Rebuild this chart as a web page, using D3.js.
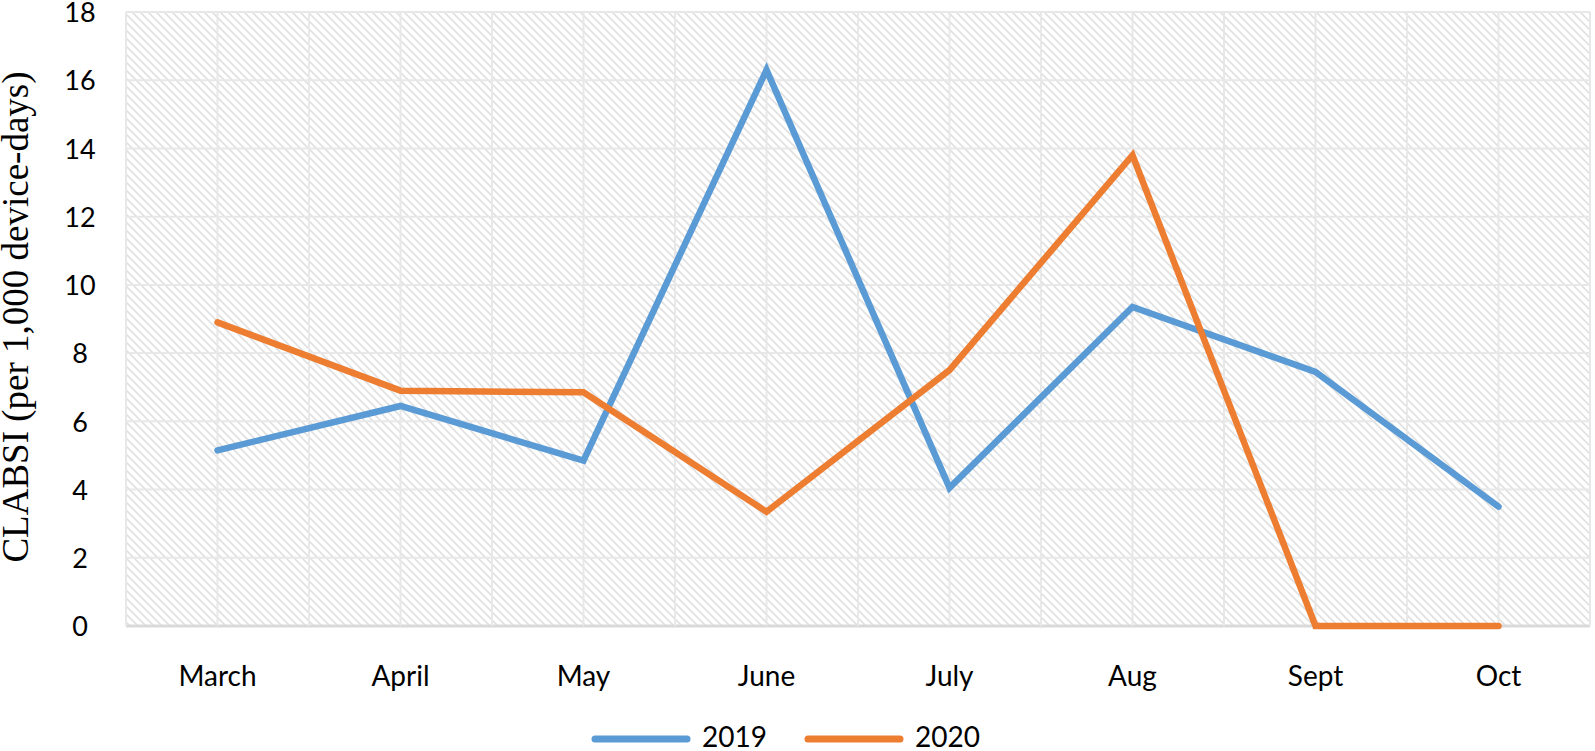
<!DOCTYPE html>
<html>
<head>
<meta charset="utf-8">
<script src="https://cdn.jsdelivr.net/npm/d3@7"></script>
<style>
  body { margin: 0; background: #fff; }
  svg { display: block; }
</style>
</head>
<body>
<div id="chart"></div>
<script>
var months = ["March", "April", "May", "June", "July", "Aug", "Sept", "Oct"];
var values2019 = [5.15, 6.45, 4.85, 16.3, 4.05, 9.35, 7.45, 3.5];
var values2020 = [8.9, 6.9, 6.85, 3.35, 7.5, 13.8, 0, 0];
var yTicks = [0, 2, 4, 6, 8, 10, 12, 14, 16, 18];
var seriesNames = ["2019", "2020"];
var seriesColors = ["#5b9bd5", "#ed7d31"];

var width = 1595, height = 751;
var margin = {left: 126, right: 5, top: 12, bottom: 125};

var svg = d3.select("#chart").append("svg")
  .attr("width", width)
  .attr("height", height);

// hatch fill for the plot area
var defs = svg.append("defs");
var pat = defs.append("pattern")
  .attr("id", "hatch")
  .attr("patternUnits", "userSpaceOnUse")
  .attr("width", 8)
  .attr("height", 8);
pat.append("path")
  .attr("d", "M-2,-2 L10,10 M-2,6 L2,10 M6,-2 L10,2")
  .attr("stroke", "#e0e0e0")
  .attr("stroke-width", 1.6);

var x = d3.scaleBand()
  .domain(months)
  .range([margin.left, width - margin.right]);

var y = d3.scaleLinear()
  .domain([0, 18])
  .range([height - margin.bottom, margin.top]);

svg.append("rect")
  .attr("x", margin.left)
  .attr("y", margin.top)
  .attr("width", width - margin.left - margin.right)
  .attr("height", y(0) - margin.top)
  .attr("fill", "url(#hatch)");

// gridlines
svg.append("g").selectAll("line")
  .data(yTicks)
  .enter()
  .append("line")
  .attr("x1", margin.left)
  .attr("x2", width - margin.right)
  .attr("y1", function(d) { return y(d); })
  .attr("y2", function(d) { return y(d); })
  .attr("stroke", function(d) { return d == 0 ? "#d9d9d9" : "#e8e8e8"; })
  .attr("stroke-width", function(d) { return d == 0 ? 3 : 2; });

// vertical grid at every band edge and centre
var vlines = [];
months.forEach(function(m) {
  vlines.push(x(m));
  vlines.push(x(m) + x.bandwidth() / 2);
});
vlines.push(width - margin.right);
svg.append("g").selectAll("line")
  .data(vlines)
  .enter()
  .append("line")
  .attr("x1", function(d) { return d; })
  .attr("x2", function(d) { return d; })
  .attr("y1", margin.top)
  .attr("y2", y(0))
  .attr("stroke", "#e8e8e8")
  .attr("stroke-width", 2);

// y axis labels
var yAxis = d3.axisLeft(y).tickValues(yTicks).tickSize(0).tickPadding(0);
var gy = svg.append("g")
  .attr("transform", "translate(80,0)")
  .call(yAxis);
gy.select(".domain").remove();
gy.selectAll("text")
  .attr("font-family", "Lato, 'Open Sans', sans-serif")
  .attr("font-size", 27)
  .attr("fill", "#000")
  .attr("text-anchor", "middle")
  .attr("dy", "0.36em");

// x axis labels
var xAxis = d3.axisBottom(x).tickSize(0).tickPadding(0);
var gx = svg.append("g")
  .attr("transform", "translate(0,676)")
  .call(xAxis);
gx.select(".domain").remove();
gx.selectAll("text")
  .attr("font-family", "Lato, 'Open Sans', sans-serif")
  .attr("font-size", 28)
  .attr("fill", "#000")
  .attr("dy", "0.36em")
  .attr("y", 0);

svg.append("text")
  .attr("transform", "translate(28," + 317 + ") rotate(-90)")
  .attr("text-anchor", "middle")
  .attr("font-family", "'Liberation Serif', 'Times New Roman', serif")
  .attr("font-size", 37)
  .attr("fill", "#000")
  .text("CLABSI (per 1,000 device-days)");

// lines
var line = d3.line()
  .x(function(d, i) { return x(months[i]) + x.bandwidth() / 2; })
  .y(function(d) { return y(d); });

[values2019, values2020].forEach(function(vals, k) {
  svg.append("path")
    .datum(vals)
    .attr("d", line)
    .attr("fill", "none")
    .attr("stroke", seriesColors[k])
    .attr("stroke-width", 6.5)
    .attr("stroke-linejoin", "miter")
    .attr("stroke-linecap", "round");
});

// legend
var legend = svg.append("g").attr("transform", "translate(0,739)");
var legX = [595, 808];
seriesNames.forEach(function(name, k) {
  legend.append("line")
    .attr("x1", legX[k])
    .attr("x2", legX[k] + 92)
    .attr("y1", 0)
    .attr("y2", 0)
    .attr("stroke", seriesColors[k])
    .attr("stroke-width", 7)
    .attr("stroke-linecap", "round");
  legend.append("text")
    .attr("x", legX[k] + 107)
    .attr("y", 0)
    .attr("dy", "0.3em")
    .attr("font-family", "Lato, 'Open Sans', sans-serif")
    .attr("font-size", 28)
    .attr("fill", "#000")
    .text(name);
});
</script>
</body>
</html>
